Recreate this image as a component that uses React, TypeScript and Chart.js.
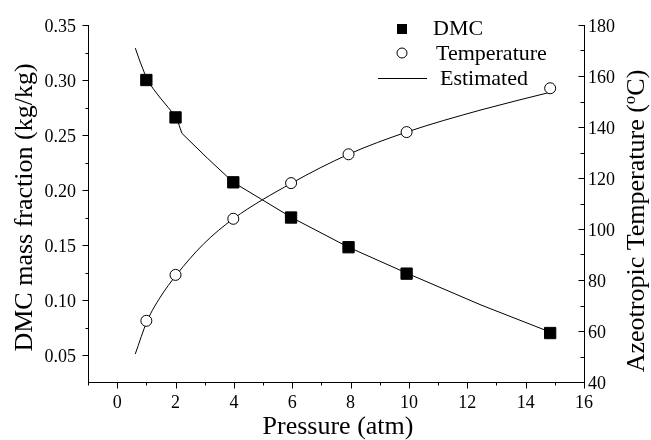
import React, { useEffect, useRef } from 'react';
import { Chart, registerables } from 'chart.js';

Chart.register(...registerables);

// Measured data
const pressure = [1.0, 2.0, 3.98, 5.96, 7.93, 9.92, 14.84];
const dmcFraction = [0.300, 0.266, 0.207, 0.175, 0.148, 0.124, 0.070];
const temperature = [64, 82, 104, 118, 129.3, 138, 155.2];

// Estimated curves
const estPressureDmc = [0.62, 0.8, 1.03, 1.25, 1.48, 1.75, 2.03, 2.22, 3.09, 3.98, 5.98, 7.93, 9.92, 12.47, 14.83];
const estDmc = [0.329, 0.3155, 0.300, 0.2915, 0.2836, 0.275, 0.266, 0.2515, 0.229, 0.207, 0.175, 0.148, 0.1245, 0.0955, 0.071];
const estPressureTemp = [0.62, 1.03, 1.48, 2.03, 2.95, 3.98, 5.98, 7.93, 9.92, 12.47, 14.8];
const estTemp = [51, 64, 73.3, 82, 94, 104, 118, 129.3, 138, 146.7, 153.5];

// Ticks
const xTicks = [0, 2, 4, 6, 8, 10, 12, 14, 16];
const xMinorTicks = [-1, 1, 3, 5, 7, 9, 11, 13, 15];
const yTicks = [0.05, 0.10, 0.15, 0.20, 0.25, 0.30, 0.35];
const yMinorTicks = [0.075, 0.125, 0.175, 0.225, 0.275, 0.325];
const y1Ticks = [40, 60, 80, 100, 120, 140, 160, 180];
const y1MinorTicks = [50, 70, 90, 110, 130, 150, 170];

const xTickLabels = xTicks.map((v) => String(v));
const yTickLabels = yTicks.map((v) => v.toFixed(2));
const y1TickLabels = y1Ticks.map((v) => String(v));

const legendLabels = ['DMC', 'Temperature', 'Estimated'];
const xTitle = 'Pressure (atm)';
const yTitle = 'DMC mass fraction (kg/kg)';
const y1TitleMain = 'Azeotropic Temperature (';
const y1TitleSup = 'o';
const y1TitleEnd = 'C)';

const FONT = '"Liberation Serif", "Times New Roman", serif';

const zip = (xs: number[], ys: number[]) => xs.map((x, i) => ({ x, y: ys[i] }));

const decorPlugin = {
  id: 'decor',
  afterDraw(chart: any) {
    const ctx = chart.ctx as CanvasRenderingContext2D;
    const ca = chart.chartArea;
    const sx = chart.scales.x;
    const sy = chart.scales.y;
    const sy1 = chart.scales.y1;
    ctx.save();
    ctx.strokeStyle = '#000';
    ctx.fillStyle = '#000';
    ctx.lineWidth = 1;
    const line = (x1: number, y1: number, x2: number, y2: number) => {
      ctx.beginPath();
      ctx.moveTo(x1, y1);
      ctx.lineTo(x2, y2);
      ctx.stroke();
    };
    const al = (v: number) => Math.round(v) + 0.5;
    const bottom = al(ca.bottom);
    const left = al(ca.left);
    const right = al(ca.right);
    xTicks.forEach((v) => { const p = al(sx.getPixelForValue(v)); line(p, bottom, p, bottom + 6); });
    xMinorTicks.forEach((v) => { const p = al(sx.getPixelForValue(v)); line(p, bottom, p, bottom + 3); });
    yTicks.forEach((v) => { const p = al(sy.getPixelForValue(v)); line(left, p, left - 6, p); });
    yMinorTicks.forEach((v) => { const p = al(sy.getPixelForValue(v)); line(left, p, left - 3, p); });
    y1Ticks.forEach((v) => { const p = al(sy1.getPixelForValue(v)); line(right, p, right - 6, p); });
    y1MinorTicks.forEach((v) => { const p = al(sy1.getPixelForValue(v)); line(right, p, right - 4, p); });

    // Tick labels
    ctx.font = `18px ${FONT}`;
    ctx.textBaseline = 'alphabetic';
    ctx.textAlign = 'center';
    xTicks.forEach((v, i) => ctx.fillText(xTickLabels[i], sx.getPixelForValue(v), ca.bottom + 26));
    ctx.textAlign = 'right';
    yTicks.forEach((v, i) => ctx.fillText(yTickLabels[i], ca.left - 12, sy.getPixelForValue(v) + 6.5));
    ctx.textAlign = 'left';
    y1Ticks.forEach((v, i) => ctx.fillText(y1TickLabels[i], ca.right + 4, sy1.getPixelForValue(v) + 6.5));

    // Titles
    ctx.font = `26px ${FONT}`;
    ctx.textAlign = 'center';
    ctx.fillText(xTitle, (ca.left + ca.right) / 2 + 2, 434);

    ctx.save();
    ctx.translate(32, 207.5);
    ctx.rotate(-Math.PI / 2);
    ctx.fillText(yTitle, 0, 0);
    ctx.restore();

    ctx.save();
    ctx.translate(644, 221);
    ctx.rotate(-Math.PI / 2);
    ctx.textAlign = 'left';
    ctx.font = `26px ${FONT}`;
    const w1 = ctx.measureText(y1TitleMain).width;
    const w3 = ctx.measureText(y1TitleEnd).width;
    ctx.font = `17px ${FONT}`;
    const w2 = ctx.measureText(y1TitleSup).width;
    const start = -(w1 + w2 + w3) / 2;
    ctx.font = `26px ${FONT}`;
    ctx.fillText(y1TitleMain, start, 0);
    ctx.font = `17px ${FONT}`;
    ctx.fillText(y1TitleSup, start + w1, -9);
    ctx.font = `26px ${FONT}`;
    ctx.fillText(y1TitleEnd, start + w1 + w2, 0);
    ctx.restore();

    // Legend
    ctx.font = `22px ${FONT}`;
    ctx.textAlign = 'left';
    ctx.fillRect(397, 24, 10, 10);
    ctx.fillText(legendLabels[0], 433, 35);
    ctx.beginPath();
    ctx.arc(402, 53, 5, 0, Math.PI * 2);
    ctx.fillStyle = '#fff';
    ctx.fill();
    ctx.stroke();
    ctx.fillStyle = '#000';
    ctx.fillText(legendLabels[1], 436, 60);
    line(378, 78.5, 427, 78.5);
    ctx.fillText(legendLabels[2], 440, 85);
    ctx.restore();
  },
};

export default function App() {
  const canvasRef = useRef<HTMLCanvasElement | null>(null);

  useEffect(() => {
    document.body.style.margin = '0';
    const canvas = canvasRef.current;
    if (!canvas) return;
    const chart = new Chart(canvas, {
      type: 'scatter',
      data: {
        datasets: [
          {
            label: 'DMC',
            data: zip(pressure, dmcFraction),
            yAxisID: 'y',
            pointStyle: 'rect',
            pointRadius: 8,
            backgroundColor: '#000',
            borderColor: '#000',
            borderWidth: 1,
            showLine: false,
            order: 0,
          },
          {
            label: 'Temperature',
            data: zip(pressure, temperature),
            yAxisID: 'y1',
            pointStyle: 'circle',
            pointRadius: 5.5,
            backgroundColor: '#fff',
            borderColor: '#000',
            borderWidth: 1,
            showLine: false,
            order: 0,
          },
          {
            label: 'Estimated',
            data: zip(estPressureDmc, estDmc),
            yAxisID: 'y',
            showLine: true,
            pointRadius: 0,
            borderColor: '#000',
            borderWidth: 1,
            tension: 0,
            order: 1,
          },
          {
            label: 'Estimated T',
            data: zip(estPressureTemp, estTemp),
            yAxisID: 'y1',
            showLine: true,
            pointRadius: 0,
            borderColor: '#000',
            borderWidth: 1,
            cubicInterpolationMode: 'monotone',
            order: 1,
          },
        ],
      },
      options: {
        responsive: false,
        animation: false,
        devicePixelRatio: 1,
        layout: { padding: { top: 25, left: 0, right: 0, bottom: 0 } },
        plugins: { legend: { display: false }, tooltip: { enabled: false } },
        scales: {
          x: {
            type: 'linear',
            position: 'bottom',
            min: -1,
            max: 16,
            afterBuildTicks: (s: any) => { s.ticks = xTicks.map((v) => ({ value: v })); },
            afterFit: (s: any) => { s.height = 58; },
            grid: { display: false, drawOnChartArea: false },
            border: { display: true, color: '#000', width: 1 },
            ticks: { display: false },
          },
          y: {
            type: 'linear',
            position: 'left',
            min: 0.0255,
            max: 0.35,
            afterBuildTicks: (s: any) => { s.ticks = yTicks.map((v) => ({ value: v })); },
            afterFit: (s: any) => { s.width = 88; },
            grid: { display: false, drawOnChartArea: false },
            border: { display: true, color: '#000', width: 1 },
            ticks: { display: false },
          },
          y1: {
            type: 'linear',
            position: 'right',
            min: 40,
            max: 180,
            afterBuildTicks: (s: any) => { s.ticks = y1Ticks.map((v) => ({ value: v })); },
            afterFit: (s: any) => { s.width = 67; },
            grid: { display: false, drawOnChartArea: false },
            border: { display: true, color: '#000', width: 1 },
            ticks: { display: false },
          },
        },
      },
      plugins: [decorPlugin],
    } as any);
    return () => chart.destroy();
  }, []);

  return (
    <div style={{ position: 'fixed', left: 0, top: 0, width: 651, height: 440, background: '#fff' }}>
      <canvas ref={canvasRef} width={651} height={440} style={{ display: 'block' }} />
    </div>
  );
}
